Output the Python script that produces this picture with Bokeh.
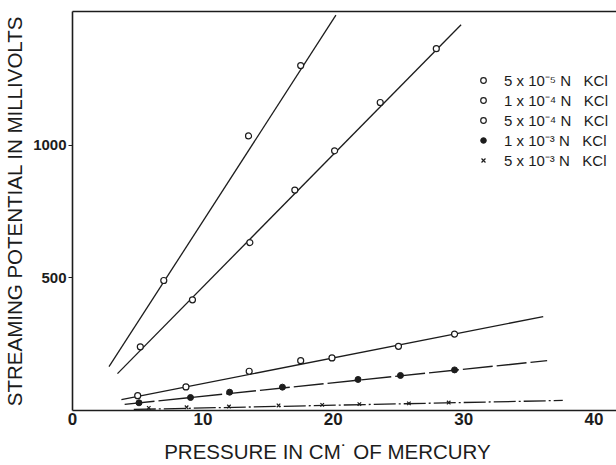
from bokeh.plotting import figure
from bokeh.models import Range1d, FixedTicker, LinearAxis, Legend, LegendItem
from bokeh.embed import file_html
from bokeh.resources import INLINE

# ---- data ----
labels = ["5 x 10\u207b\u2075 N   KCl", "1 x 10\u207b\u2074 N   KCl", "5 x 10\u207b\u2074 N   KCl",
          "1 x 10\u207b\u00b3 N   KCl", "5 x 10\u207b\u00b3 N   KCl"]

s1_x = [7.0, 13.5, 17.5]
s1_y = [490, 1035, 1300]
s1_fit_x = [2.8, 20.2]
s1_fit_y = [165, 1490]

s2_x = [5.2, 9.2, 13.6, 17.05, 20.1, 23.6, 27.9]
s2_y = [240, 417, 633, 831, 979, 1161, 1364]
s2_fit_x = [3.45, 29.8]
s2_fit_y = [139, 1454]

s3_x = [5.0, 8.7, 13.55, 17.5, 19.9, 25.0, 29.3]
s3_y = [56, 89, 148, 188, 198, 242, 288]
s3_fit_x = [3.75, 36.1]
s3_fit_y = [41, 354]

s4_x = [5.1, 9.05, 12.05, 16.1, 21.9, 25.15, 29.3]
s4_y = [29, 49, 69, 88, 117, 132, 153]
s4_fit_x = [4.0, 36.4]
s4_fit_y = [23, 188]

s5_x = [5.85, 8.75, 12.0, 15.8, 19.15, 22.0, 25.8, 28.85]
s5_y = [10, 12, 15, 19, 21, 24, 27, 30]
s5_fit_x = [4.7, 37.6]
s5_fit_y = [4, 38]

x_ticks = [0, 10, 20, 30, 40]
y_ticks = [500, 1000]
x_title = "PRESSURE IN CM\u02d9 OF MERCURY" + "\u00a0" * 6
y_title = "STREAMING POTENTIAL IN MILLIVOLTS"

INK = "#1c1c1c"
FONT = "Liberation Sans"

p = figure(width=616, height=465, output_backend="svg", toolbar_location=None,
           x_range=Range1d(0, 41.72), y_range=Range1d(0, 1504),
           min_border_left=72, min_border_right=0, min_border_top=11, min_border_bottom=54)
p.grid.visible = False
p.outline_line_color = None
p.background_fill_color = "white"
p.border_fill_color = "white"

# axes
xa = p.xaxis[0]
xa.ticker = FixedTicker(ticks=x_ticks)
xa.axis_line_color = INK
xa.axis_line_width = 1.6
xa.major_tick_out = 0
xa.major_tick_in = 0
xa.minor_tick_line_color = None
xa.major_label_standoff = 2
xa.major_label_text_font = FONT
xa.major_label_text_font_style = "bold"
xa.major_label_text_font_size = "17px"
xa.major_label_text_color = INK
xa.axis_label = x_title
xa.axis_label_text_font = FONT
xa.axis_label_text_font_style = "normal"
xa.axis_label_text_font_size = "20.5px"
xa.axis_label_text_color = INK
xa.axis_label_standoff = 12

ya = p.yaxis[0]
ya.ticker = FixedTicker(ticks=y_ticks)
ya.axis_line_color = INK
ya.axis_line_width = 1.6
ya.major_tick_out = 4
ya.major_tick_in = 0
ya.major_tick_line_color = INK
ya.minor_tick_line_color = None
ya.major_label_standoff = 2
ya.major_label_text_font = FONT
ya.major_label_text_font_style = "bold"
ya.major_label_text_font_size = "15px"
ya.major_label_text_color = INK
ya.axis_label = y_title
ya.axis_label_text_font = FONT
ya.axis_label_text_font_style = "normal"
ya.axis_label_text_font_size = "20.5px"
ya.axis_label_text_color = INK
ya.axis_label_standoff = 4

top = LinearAxis(ticker=FixedTicker(ticks=[]), axis_line_color=INK, axis_line_width=1.6,
                 major_tick_line_color=None, minor_tick_line_color=None,
                 major_label_text_font_size="0px", major_label_standoff=0)
p.add_layout(top, "above")

# fitted lines
p.line(s1_fit_x, s1_fit_y, line_color=INK, line_width=1.3)
p.line(s2_fit_x, s2_fit_y, line_color=INK, line_width=1.3)
p.line(s3_fit_x, s3_fit_y, line_color=INK, line_width=1.4)
p.line(s4_fit_x, s4_fit_y, line_color=INK, line_width=1.4, line_dash="30 4")
p.line(s5_fit_x, s5_fit_y, line_color=INK, line_width=1.3, line_dash="22 3 2 3")

# points
r1 = p.scatter(s1_x, s1_y, marker="circle", size=6, fill_color="white", line_color=INK, line_width=1.2)
r2 = p.scatter(s2_x, s2_y, marker="circle", size=6, fill_color="white", line_color=INK, line_width=1.2)
r3 = p.scatter(s3_x, s3_y, marker="circle", size=6, fill_color="white", line_color=INK, line_width=1.2)
r4 = p.scatter(s4_x, s4_y, marker="circle", size=6, fill_color=INK, line_color=INK, line_width=1.0)
r5 = p.scatter(s5_x, s5_y, marker="x", size=5, line_color=INK, line_width=1.2)

legend = Legend(items=[LegendItem(label=labels[i], renderers=[r])
                       for i, r in enumerate([r1, r2, r3, r4, r5])],
                location=(404, 240), orientation="vertical",
                glyph_width=14, glyph_height=14, label_height=14, spacing=0,
                label_standoff=14, padding=0, margin=0,
                border_line_color=None, background_fill_alpha=0,
                label_text_font=FONT, label_text_font_size="15px", label_text_color=INK)
p.add_layout(legend)

open("out.html", "w").write(file_html(p, INLINE))
